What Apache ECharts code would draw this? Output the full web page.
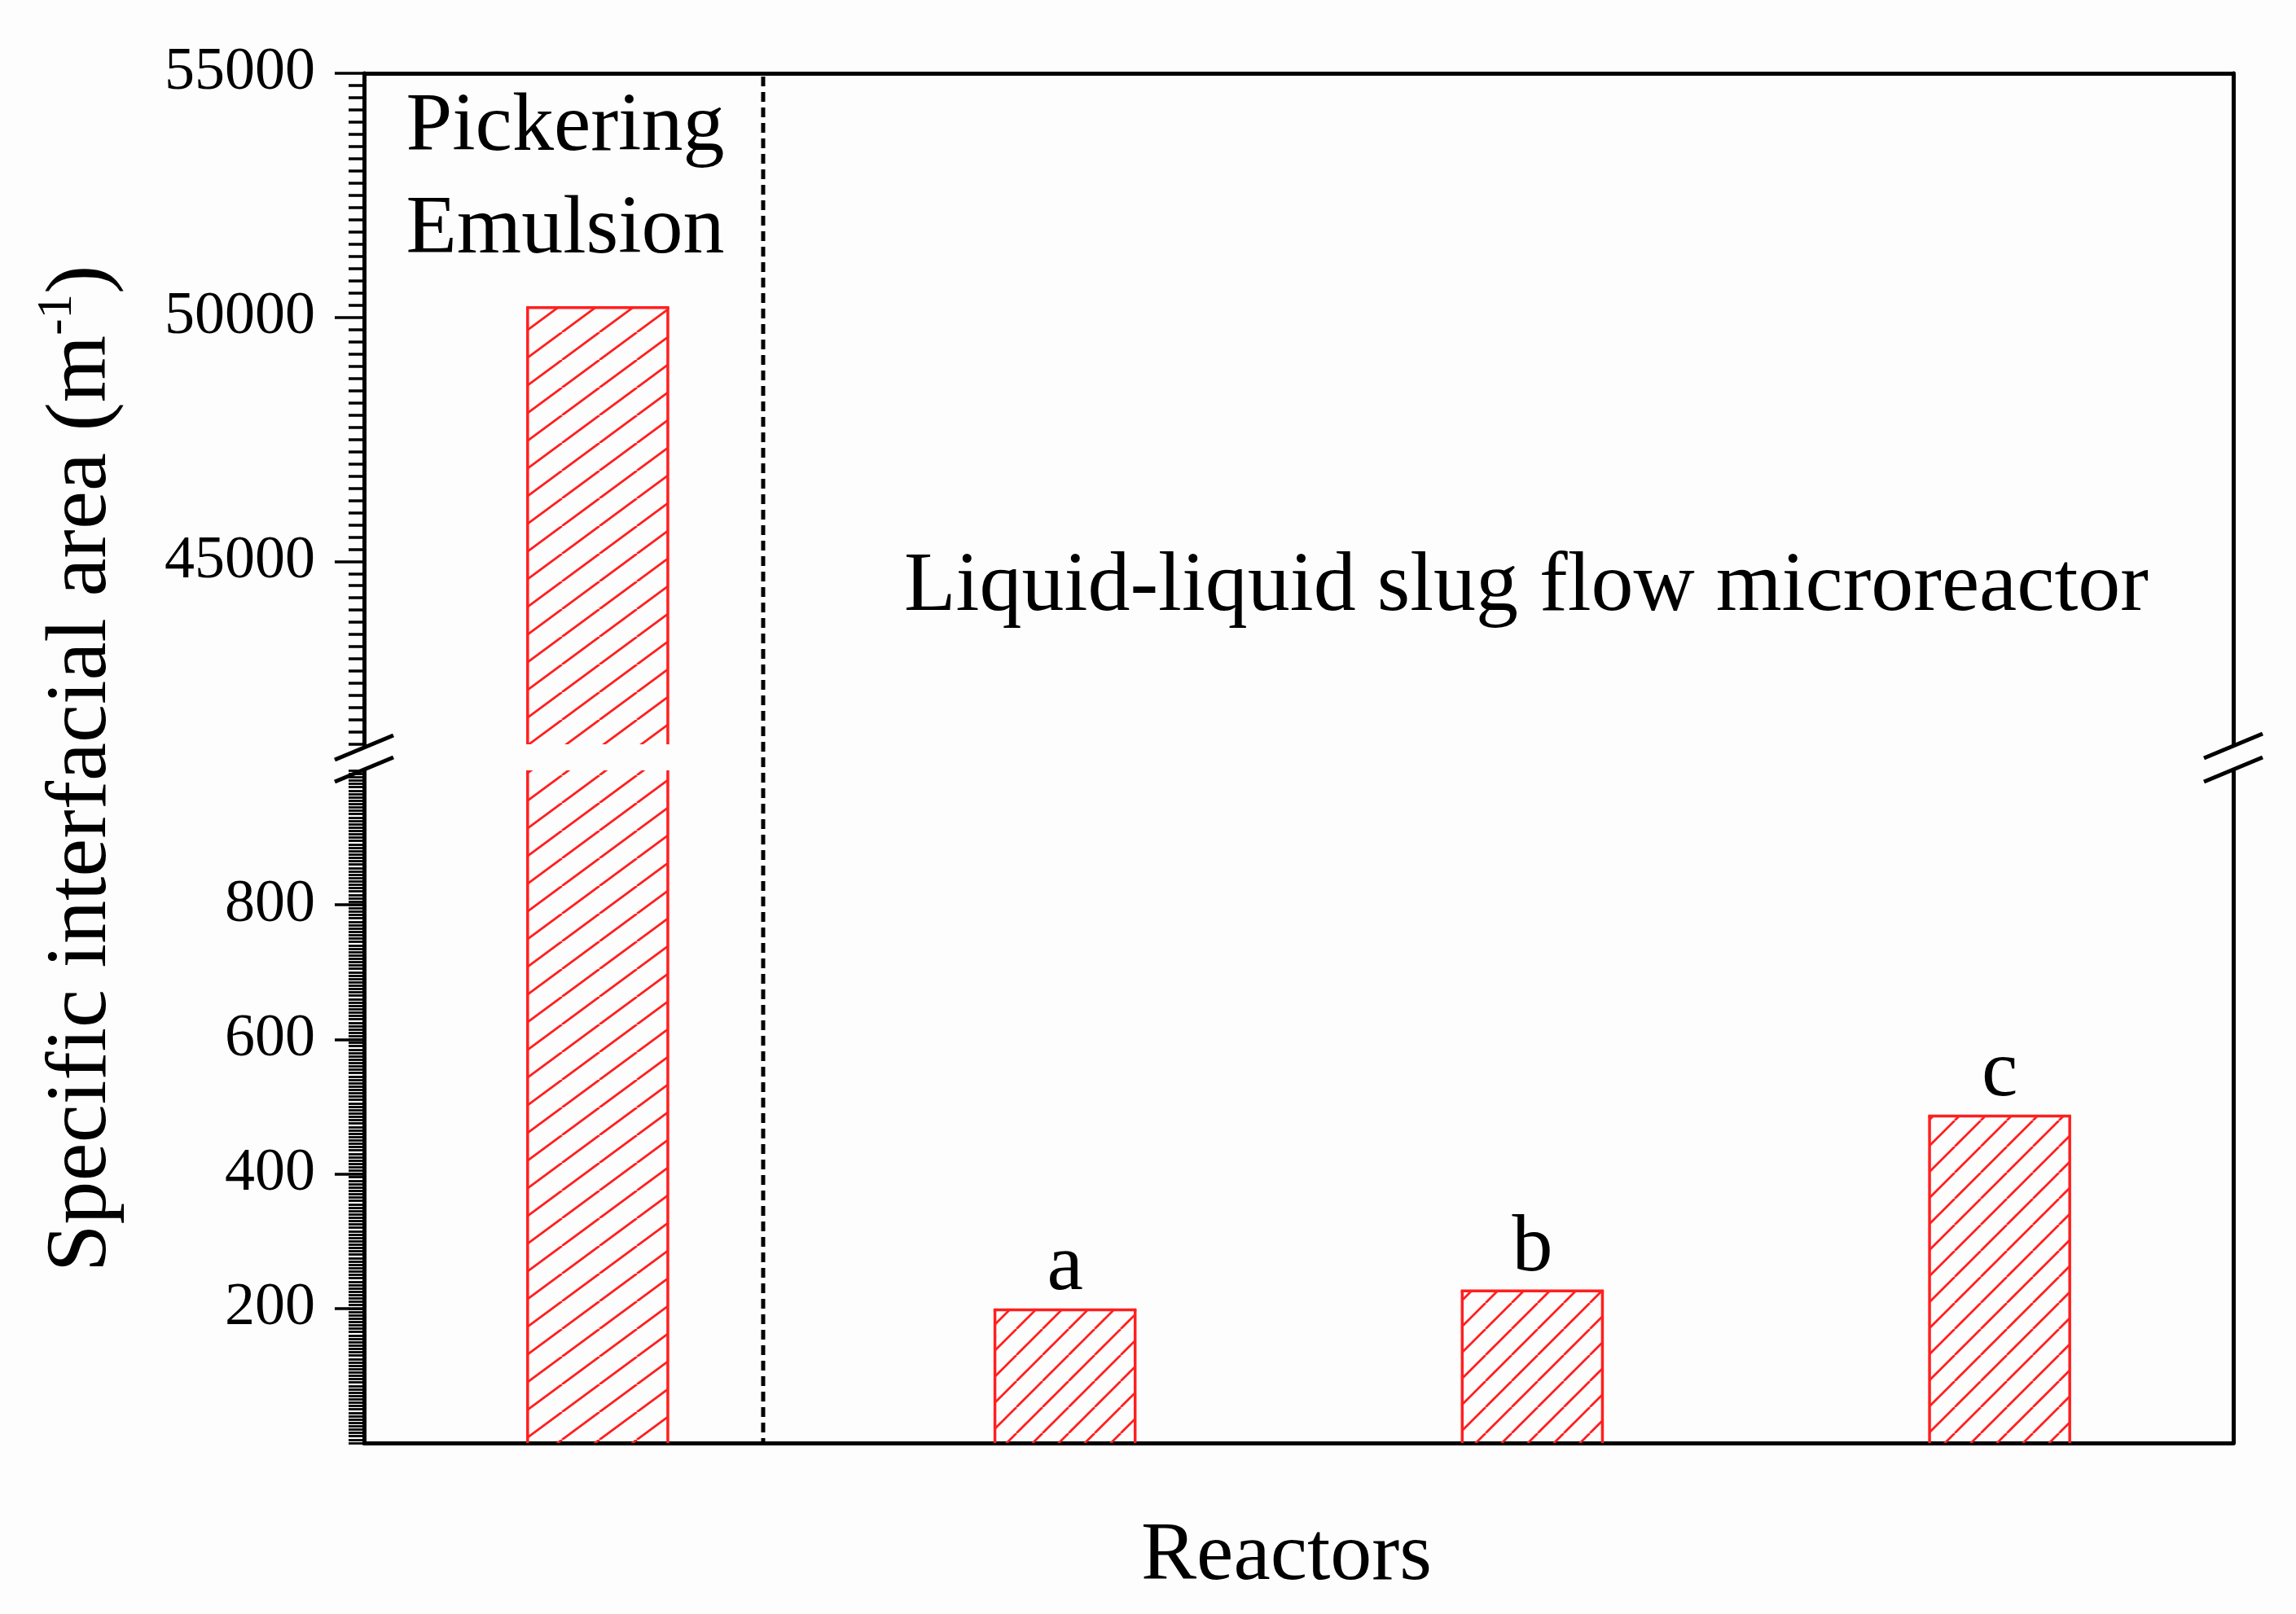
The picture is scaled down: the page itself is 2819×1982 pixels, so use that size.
<!DOCTYPE html>
<html><head><meta charset="utf-8">
<script src="https://cdn.jsdelivr.net/npm/echarts@6/dist/echarts.min.js"></script>
<style>html,body{margin:0;padding:0;background:#fff}#c{width:2819px;height:1982px}</style>
</head><body><div id="c"></div>
<script>
// ---- data ----
const categories = ['Pickering Emulsion', 'a', 'b', 'c'];
const values = [50200, 198, 226, 486];
const barLabels = ['', 'a', 'b', 'c'];
const upperTicks = [45000, 50000, 55000];
const lowerTicks = [200, 400, 600, 800];
const upperRange = [41250, 55000];
const lowerRange = [0, 1000];

// ---- layout / style ----
const FONT = '"Liberation Serif", "Times New Roman", serif';
const W = 2819, H = 1982;
const L = 447, R = 2742, TOP = 90, UP_BOT = 914, LO_TOP = 946, BOT = 1772;
const RED = '#ff1f1f';

function makeHatch(w, h, lw, color) {
  const c = document.createElement('canvas');
  c.width = w; c.height = h;
  const g = c.getContext('2d');
  g.strokeStyle = color; g.lineWidth = lw;
  g.beginPath();
  for (const dx of [-w, 0, w]) { g.moveTo(dx, h); g.lineTo(dx + w, 0); }
  g.stroke();
  return c;
}
const patP = { image: makeHatch(46, 34, 2.8, RED), repeat: 'repeat' };
const patABC = { image: makeHatch(32, 32, 2.8, RED), repeat: 'repeat' };

function renderBar(showLabels) {
  return function (params, api) {
    const cs = params.coordSys;
    const idx = api.value(0), v = api.value(1);
    const band = api.size([1, 0])[0];
    const bw = band * 0.3;
    const cx = api.coord([idx, 0])[0];
    let yTop = api.coord([idx, v])[1];
    let yBase = api.coord([idx, 0])[1];
    const gTop = cs.y, gBot = cs.y + cs.height;
    if (yTop >= gBot) return null;
    const clipTop = yTop < gTop;
    yTop = Math.max(yTop, gTop);
    yBase = Math.min(yBase, gBot);
    const x0 = cx - bw / 2, x1 = cx + bw / 2;
    const pat = params.dataIndex === 0 ? patP : patABC;
    const stroke = { stroke: RED, lineWidth: 3.5, fill: null };
    const children = [
      { type: 'rect', shape: { x: x0, y: yTop, width: bw, height: yBase - yTop }, style: { fill: pat } },
      { type: 'line', shape: { x1: x0, y1: yBase, x2: x0, y2: yTop }, style: stroke },
      { type: 'line', shape: { x1: x1, y1: yBase, x2: x1, y2: yTop }, style: stroke }
    ];
    if (!clipTop) {
      children.push({ type: 'line', shape: { x1: x0 - 1.7, y1: yTop, x2: x1 + 1.7, y2: yTop }, style: stroke });
    }
    if (showLabels && barLabels[params.dataIndex] && !clipTop) {
      children.push({ type: 'text', x: cx, y: yTop - 2,
        style: { text: barLabels[params.dataIndex], font: '100px ' + FONT, fill: '#000',
                 align: 'center', verticalAlign: 'bottom' } });
    }
    return { type: 'group', children };
  };
}

const barData = values.map((v, i) => [i, v]);
const axisLine = { show: true, lineStyle: { color: '#000', width: 5 } };
const labelStyle = { color: '#000', fontFamily: FONT, fontSize: 74, margin: 60, formatter: v => String(v) };

const chart = echarts.init(document.getElementById('c'), null, { renderer: 'canvas' });
chart.setOption({
  backgroundColor: '#fdfdfd',
  animation: false,
  grid: [
    { left: L, right: W - R, top: TOP, height: UP_BOT - TOP },
    { left: L, right: W - R, top: LO_TOP, height: BOT - LO_TOP }
  ],
  xAxis: [
    { type: 'category', gridIndex: 0, data: categories, position: 'top', boundaryGap: true,
      axisLine, axisTick: { show: false }, axisLabel: { show: false }, splitLine: { show: false } },
    { type: 'category', gridIndex: 1, data: categories, position: 'bottom', boundaryGap: true,
      axisLine, axisTick: { show: false }, axisLabel: { show: false }, splitLine: { show: false } }
  ],
  yAxis: [
    { type: 'value', gridIndex: 0, position: 'left', min: upperRange[0], max: upperRange[1],
      axisLine, splitLine: { show: false },
      axisTick: { show: true, length: 36, customValues: upperTicks, lineStyle: { color: '#000', width: 3.5 } },
      axisLabel: Object.assign({ customValues: upperTicks }, labelStyle) },
    { type: 'value', gridIndex: 0, position: 'left', min: upperRange[0], max: upperRange[1], interval: 250,
      axisLine: { show: false }, splitLine: { show: false }, axisLabel: { show: false },
      axisTick: { show: true, length: 19, lineStyle: { color: '#000', width: 3.5 } } },
    { type: 'value', gridIndex: 0, position: 'right', min: upperRange[0], max: upperRange[1],
      axisLine, splitLine: { show: false }, axisTick: { show: false }, axisLabel: { show: false } },
    { type: 'value', gridIndex: 1, position: 'left', min: lowerRange[0], max: lowerRange[1],
      axisLine, splitLine: { show: false },
      axisTick: { show: true, length: 36, customValues: lowerTicks, lineStyle: { color: '#000', width: 3.5 } },
      axisLabel: Object.assign({ customValues: lowerTicks }, labelStyle) },
    { type: 'value', gridIndex: 1, position: 'left', min: lowerRange[0], max: lowerRange[1], interval: 5,
      axisLine: { show: false }, splitLine: { show: false }, axisLabel: { show: false },
      axisTick: { show: true, length: 19, lineStyle: { color: '#000', width: 2.8 } } },
    { type: 'value', gridIndex: 1, position: 'right', min: lowerRange[0], max: lowerRange[1],
      axisLine, splitLine: { show: false }, axisTick: { show: false }, axisLabel: { show: false } }
  ],
  series: [
    { type: 'custom', xAxisIndex: 0, yAxisIndex: 0, data: barData, encode: { x: 0, y: 1 },
      renderItem: renderBar(false), clip: false, z: 3 },
    { type: 'custom', xAxisIndex: 1, yAxisIndex: 3, data: barData, encode: { x: 0, y: 1 },
      renderItem: renderBar(true), clip: false, z: 3 }
  ],
  graphic: [
    { type: 'line', shape: { x1: 937, y1: TOP + 4, x2: 937, y2: BOT - 2 },
      style: { stroke: '#000', lineWidth: 5, lineDash: [12, 7] }, z: 5 },
    ...[[L, 918], [L, 945], [R, 916], [R, 945]].map(([x, y]) => ({
      type: 'line', shape: { x1: x - 36, y1: y + 15, x2: x + 36, y2: y - 15 },
      style: { stroke: '#000', lineWidth: 5 }, z: 10 })),
    { type: 'text', x: 694, y: 157, z: 10,
      style: { text: 'Pickering', font: '102px ' + FONT, fill: '#000', align: 'center', verticalAlign: 'middle' } },
    { type: 'text', x: 694, y: 283, z: 10,
      style: { text: 'Emulsion', font: '102px ' + FONT, fill: '#000', align: 'center', verticalAlign: 'middle' } },
    { type: 'text', x: 1874, y: 722, z: 10,
      style: { text: 'Liquid-liquid slug flow microreactor', font: '104px ' + FONT, fill: '#000',
               align: 'center', verticalAlign: 'middle' } },
    { type: 'text', x: (L + R) / 2 - 15, y: 1912, z: 10,
      style: { text: 'Reactors', font: '102px ' + FONT, fill: '#000', align: 'center', verticalAlign: 'middle' } },
    { type: 'text', x: 101, y: 944, rotation: Math.PI / 2, z: 10,
      style: { text: '{a|Specific interfacial area (m}{s|-1}{a|)}', align: 'center', verticalAlign: 'middle',
               fill: '#000',
               rich: { a: { fontFamily: FONT, fontSize: 106, lineHeight: 122, verticalAlign: 'middle', fill: '#000' },
                       s: { fontFamily: FONT, fontSize: 61, lineHeight: 61, verticalAlign: 'top', fill: '#000' } } } }
  ]
});
</script></body></html>
